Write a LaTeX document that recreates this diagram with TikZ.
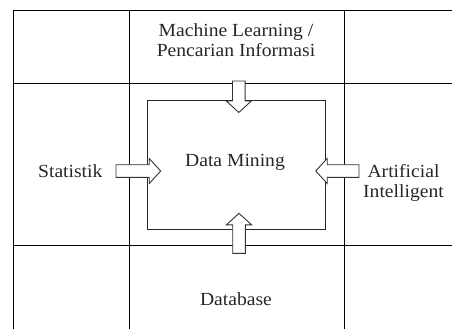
\documentclass[tikz,border=0pt]{standalone}
\usepackage{fontspec}
\setmainfont[FakeStretch=1.06]{Liberation Serif}
\begin{document}
\begin{tikzpicture}[x=1pt,y=-1pt,
  grid/.style={draw=black,line width=1pt},
  core/.style={draw=black!85,line width=1pt},
  label/.style={inner sep=0pt,anchor=base,align=center,text=black!85,
    font=\fontsize{18.5}{20}\selectfont},
  arrowbody/.style={draw=black!80,fill=white,line width=0.9pt,line join=miter},
  pics/blockarrow/.style={code={
    \draw[arrowbody] (0,-6.3) -- (#1-11.5,-6.3) -- (#1-11.5,-12.5) -- (#1,0)
      -- (#1-11.5,12.5) -- (#1-11.5,6.3) -- (0,6.3) -- cycle;}}]
\useasboundingbox (0,0) rectangle (452,329);

% table grid
\draw[grid] (452,11) -- (13,11) -- (13,329);
\draw[grid] (129,11) -- (129,329);
\draw[grid] (344,11) -- (344,329);
\draw[grid] (13,83) -- (452,83);
\draw[grid] (13,245) -- (452,245);

% central box
\draw[core] (147,100) rectangle (325,229.5);

% labels (base anchor sits on the last line of a two-line label)
\node[label] (dm)   at (235,166.5) {Data Mining};
\node[label] (ml)   at (236,56.7)  {Machine Learning /\\Pencarian Informasi};
\node[label] (stat) at (70.3,177.3) {Statistik};
\node[label] (ai)   at (403.5,197.7) {Artificial\\Intelligent};
\node[label] (db)   at (236,305)   {Database};

% arrow anchors
\coordinate (mlOut)   at (238.8,81);
\coordinate (statOut) at (116,171);
\coordinate (aiOut)   at (359,171);
\coordinate (dbOut)   at (239,253.3);

% block arrows into the central box
\pic[rotate=-90] at (mlOut)   {blockarrow=31.5};
\pic             at (statOut) {blockarrow=44.7};
\pic[rotate=180] at (aiOut)   {blockarrow=43.3};
\pic[rotate=90]  at (dbOut)   {blockarrow=40};
\end{tikzpicture}
\end{document}
